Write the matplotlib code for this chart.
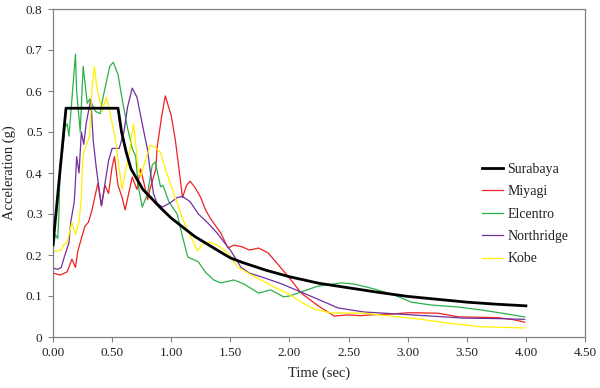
import matplotlib
matplotlib.use("Agg")
import matplotlib.pyplot as plt
from matplotlib.ticker import FixedLocator, FixedFormatter

plt.rcParams['font.family'] = ['Liberation Serif', 'DejaVu Serif']

sur_t = [0, 0.11, 0.55, 0.58, 0.62, 0.66, 0.76, 0.91, 1.0, 1.2, 1.4, 1.5, 1.6, 1.8, 2.0,
         2.25, 2.5, 2.75, 3.0, 3.25, 3.5, 3.75, 4.0]
sur_a = [0.225, 0.558, 0.558, 0.50, 0.45, 0.41, 0.36, 0.315, 0.29, 0.245, 0.21, 0.193, 0.182,
         0.163, 0.147, 0.131, 0.12, 0.109, 0.099, 0.092, 0.085, 0.080, 0.076]

miy_t = [0, 0.06, 0.12, 0.16, 0.19, 0.21, 0.245, 0.27, 0.30, 0.33, 0.36, 0.38, 0.41, 0.44,
         0.47, 0.50, 0.52, 0.55, 0.585, 0.61, 0.64, 0.67, 0.71, 0.74, 0.77, 0.80, 0.82, 0.87,
         0.88, 0.92, 0.95, 1.0, 1.035, 1.07, 1.095, 1.13, 1.16, 1.2, 1.25, 1.29, 1.33, 1.42,
         1.48, 1.53, 1.60, 1.66, 1.74, 1.82, 1.90, 2.0, 2.10, 2.21, 2.27, 2.38, 2.49, 2.6,
         2.69, 2.86, 3.0, 3.09, 3.26, 3.43, 3.62, 3.77, 3.9, 3.99]
miy_a = [0.156, 0.151, 0.159, 0.19, 0.17, 0.21, 0.245, 0.27, 0.28, 0.31, 0.35, 0.375, 0.32,
         0.37, 0.35, 0.415, 0.44, 0.37, 0.34, 0.31, 0.35, 0.39, 0.36, 0.41, 0.375, 0.335,
         0.36, 0.41, 0.46, 0.54, 0.588, 0.54, 0.48, 0.40, 0.34, 0.37, 0.38, 0.365, 0.34,
         0.31, 0.29, 0.253, 0.217, 0.224, 0.22, 0.212, 0.217, 0.205, 0.178, 0.144, 0.107,
         0.083, 0.071, 0.051, 0.054, 0.052, 0.054, 0.056, 0.059, 0.059, 0.058, 0.049,
         0.048, 0.047, 0.042, 0.036]

elc_t = [0.0, 0.02, 0.04, 0.05, 0.06, 0.08, 0.10, 0.12, 0.135, 0.16, 0.19, 0.20, 0.23,
         0.255, 0.29, 0.31, 0.36, 0.40, 0.42, 0.48, 0.51, 0.55, 0.585, 0.63, 0.67, 0.70,
         0.72, 0.755, 0.80, 0.84, 0.865, 0.91, 0.93, 0.98, 1.05, 1.095, 1.14, 1.18, 1.23,
         1.29, 1.36, 1.42, 1.53, 1.61, 1.74, 1.84, 1.95, 2.0, 2.10, 2.24, 2.44, 2.55, 2.72,
         2.89, 3.03, 3.2, 3.43, 3.62, 3.8, 3.99]
elc_a = [0.21, 0.25, 0.24, 0.30, 0.42, 0.45, 0.51, 0.52, 0.49, 0.58, 0.69, 0.60, 0.50,
         0.66, 0.57, 0.58, 0.55, 0.545, 0.58, 0.66, 0.67, 0.64, 0.58, 0.51, 0.46, 0.44,
         0.37, 0.317, 0.35, 0.42, 0.427, 0.366, 0.37, 0.33, 0.30, 0.245, 0.195, 0.19,
         0.183, 0.158, 0.139, 0.132, 0.139, 0.13, 0.107, 0.115, 0.098, 0.10, 0.11, 0.124,
         0.132, 0.129, 0.117, 0.102, 0.085, 0.078, 0.073, 0.066, 0.058, 0.049]

nor_t = [0, 0.04, 0.07, 0.09, 0.135, 0.15, 0.18, 0.19, 0.20, 0.22, 0.24, 0.26, 0.28, 0.32,
         0.34, 0.365, 0.39, 0.41, 0.44, 0.47, 0.50, 0.56, 0.60, 0.63, 0.67, 0.71, 0.755,
         0.80, 0.82, 0.85, 0.88, 0.925, 0.99, 1.05, 1.095, 1.16, 1.23, 1.31, 1.39, 1.45,
         1.50, 1.59, 1.66, 1.78, 1.93, 2.07, 2.21, 2.41, 2.63, 2.92, 3.2, 3.48, 3.75, 3.99]
nor_a = [0.168, 0.165, 0.17, 0.19, 0.23, 0.28, 0.33, 0.38, 0.44, 0.40, 0.50, 0.47, 0.52,
         0.58, 0.48, 0.415, 0.36, 0.32, 0.375, 0.43, 0.46, 0.46, 0.50, 0.56, 0.607, 0.585,
         0.52, 0.456, 0.41, 0.35, 0.326, 0.317, 0.327, 0.34, 0.343, 0.33, 0.30, 0.278,
         0.253, 0.23, 0.212, 0.17, 0.156, 0.145, 0.13, 0.113, 0.096, 0.071, 0.061, 0.056,
         0.051, 0.046, 0.045, 0.043]

kob_t = [0, 0.07, 0.09, 0.12, 0.16, 0.19, 0.22, 0.24, 0.25, 0.265, 0.31, 0.33, 0.35, 0.37,
         0.415, 0.45, 0.48, 0.53, 0.55, 0.585, 0.61, 0.65, 0.68, 0.70, 0.72, 0.74, 0.77,
         0.82, 0.865, 0.91, 0.95, 0.99, 1.05, 1.095, 1.14, 1.18, 1.22, 1.26, 1.32, 1.39,
         1.48, 1.56, 1.65, 1.76, 1.87, 1.99, 2.10, 2.21, 2.35, 2.63, 2.86, 3.09, 3.34,
         3.62, 3.99]
kob_a = [0.208, 0.212, 0.225, 0.23, 0.28, 0.25, 0.28, 0.34, 0.43, 0.455, 0.49, 0.61, 0.66,
         0.61, 0.55, 0.585, 0.55, 0.48, 0.43, 0.36, 0.40, 0.456, 0.52, 0.47, 0.41, 0.39,
         0.42, 0.468, 0.463, 0.449, 0.41, 0.376, 0.327, 0.29, 0.26, 0.237, 0.21, 0.225,
         0.232, 0.224, 0.205, 0.171, 0.156, 0.139, 0.122, 0.105, 0.085, 0.068, 0.059,
         0.058, 0.051, 0.044, 0.034, 0.025, 0.022]

x_ticks = [0, 0.5, 1.0, 1.5, 2.0, 2.5, 3.0, 3.5, 4.0, 4.5]
x_labels = ["0.00", "0.50", "1.00", "1.50", "2.00", "2.50", "3.00", "3.50", "4.00", "4.50"]
y_ticks = [0, 0.1, 0.2, 0.3, 0.4, 0.5, 0.6, 0.7, 0.8]
y_labels = ["0", "0.1", "0.2", "0.3", "0.4", "0.5", "0.6", "0.7", "0.8"]

fig = plt.figure(figsize=(6.0, 3.88), dpi=100)
ax = fig.add_axes([53/600, 1-337/388, (585-53)/600, (337-9)/388])

ax.plot(sur_t, sur_a, color='black', lw=2.0, label='Surabaya', zorder=5)
ax.plot(miy_t, miy_a, color='#F02020', lw=0.9, label='Miyagi')
ax.plot(elc_t, elc_a, color='#2DB04A', lw=0.9, label='Elcentro')
ax.plot(nor_t, nor_a, color='#7030A0', lw=0.9, label='Northridge')
ax.plot(kob_t, kob_a, color='#FFF200', lw=0.9, label='Kobe')

ax.set_xlim(0, 4.5)
ax.set_ylim(0, 0.8)
ax.xaxis.set_major_locator(FixedLocator(x_ticks))
ax.xaxis.set_major_formatter(FixedFormatter(x_labels))
ax.yaxis.set_major_locator(FixedLocator(y_ticks))
ax.yaxis.set_major_formatter(FixedFormatter(y_labels))
ax.tick_params(direction='out', length=3.5, width=0.8, color='#808080', labelsize=9.5,
               labelcolor='#222222', pad=4)
for s in ax.spines.values():
    s.set_color('#808080')
    s.set_linewidth(0.9)

ax.set_xlabel('Time (sec)', fontsize=10.5, color='#222222', labelpad=5)
ax.set_ylabel('Acceleration (g)', fontsize=10.5, color='#222222', labelpad=7)

leg = ax.legend(loc='center left', bbox_to_anchor=(0.806, 0.375), frameon=False,
                fontsize=10, handlelength=1.55, handletextpad=0.3, labelspacing=0.68,
                borderaxespad=0, borderpad=0)
for t in leg.get_texts():
    t.set_color('#222222')

fig.savefig('out.png', dpi=100)
